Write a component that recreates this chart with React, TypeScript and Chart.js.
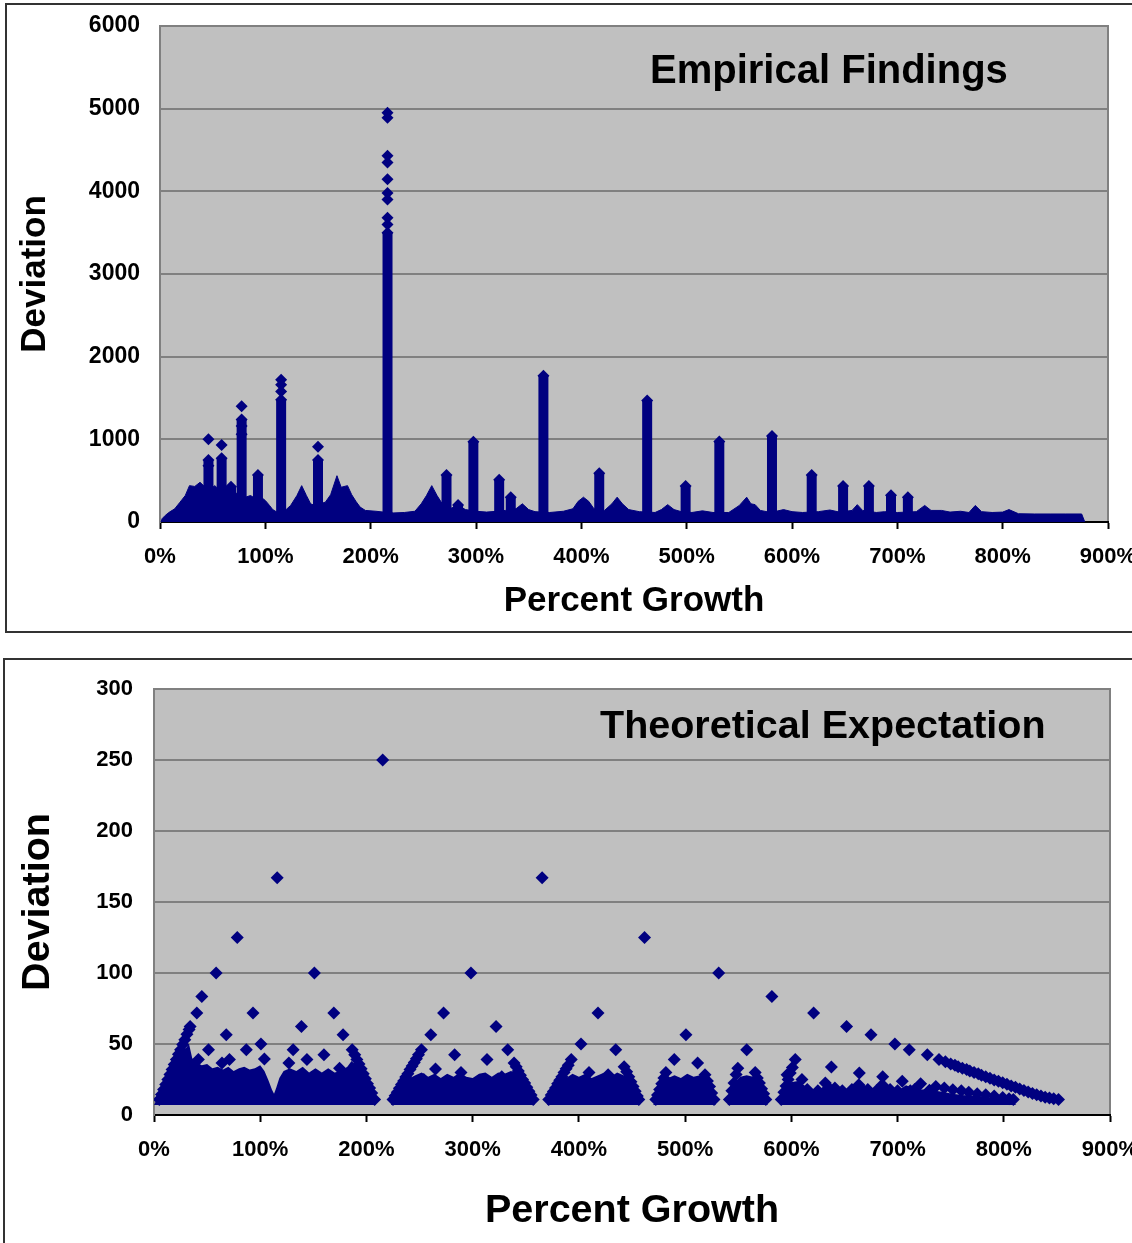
import React, { useEffect, useRef } from "react";
import { Chart, registerables } from "chart.js";

Chart.register(...registerables);

const FONT = "Arial, 'Liberation Sans', Helvetica, sans-serif";
const NAVY = "#000080";

// ---------- shared axis ----------
const xTickValues = [0, 100, 200, 300, 400, 500, 600, 700, 800, 900];

// ---------- Empirical Findings (top) ----------
const empYTicks = [0, 1000, 2000, 3000, 4000, 5000, 6000];

// dense mass outline (percent growth, deviation)
const empMassX = [1, 2, 5, 9, 14, 19, 24, 28, 33, 38, 43, 48, 52, 57, 62, 66, 71, 76, 81, 86, 91, 96, 100, 104, 107, 111, 118, 124, 130, 134.5, 139, 143, 147, 152, 157, 162, 168, 172, 178, 182, 186, 190, 195, 205, 212, 222, 232, 242, 248, 253, 258, 263, 268, 275, 283, 290, 300, 310, 320, 328, 338, 344, 350, 356, 370, 383, 392, 397, 402, 407, 412, 422, 429, 434, 439, 445, 455, 470, 476, 482, 488, 495, 505, 515, 525, 540, 550, 557, 561, 565, 570, 580, 592, 600, 610, 625, 636, 645, 657, 662, 667, 680, 688, 700, 718, 726, 732, 742, 750, 760, 768, 774, 780, 790, 800, 806, 815, 830, 845, 860, 875, 878];
const empMassY = [0, 40, 80, 120, 160, 240, 320, 440, 430, 480, 420, 400, 440, 380, 420, 400, 360, 320, 300, 320, 280, 300, 260, 200, 150, 120, 130, 200, 320, 440, 320, 220, 200, 220, 240, 330, 560, 420, 440, 330, 250, 180, 140, 130, 120, 110, 115, 130, 220, 320, 440, 320, 220, 160, 200, 150, 130, 120, 130, 140, 160, 220, 150, 125, 115, 130, 160, 250, 300, 250, 160, 140, 220, 300, 220, 150, 125, 115, 150, 210, 150, 125, 115, 135, 115, 115, 200, 300, 220, 210, 140, 115, 150, 125, 115, 125, 145, 120, 140, 210, 140, 115, 125, 115, 125, 200, 140, 140, 120, 130, 115, 200, 125, 115, 120, 150, 100, 97, 97, 97, 97, 0];

// tall narrow columns (percent growth, top deviation)
const empSpikeX = [46, 58.5, 67.4, 77.5, 93, 115, 150, 216, 272, 283, 297.5, 322, 333, 364, 417, 462.5, 499, 531, 581, 618.7, 648.5, 673, 694, 710];
const empSpikeTop = [750, 770, 425, 1240, 570, 1480, 750, 3500, 570, 205, 970, 510, 300, 1770, 590, 1470, 435, 975, 1040, 570, 435, 435, 325, 300];

// isolated points above the columns
const empDotX = [46, 46, 58.5, 77.5, 77.5, 77.5, 115, 115, 115, 150, 216, 216, 216, 216, 216, 216, 216, 216, 216];
const empDotY = [1000, 680, 930, 1400, 1160, 1060, 1580, 1660, 1720, 910, 3600, 3680, 3900, 3980, 4145, 4350, 4430, 4890, 4950];

// ---------- Theoretical Expectation (bottom) ----------
const theoYTicks = [0, 50, 100, 150, 200, 250, 300];

const theoMassX = [0, 2, 5, 10, 15, 20, 25, 30, 33, 36, 40, 45, 50, 55, 60, 65, 70, 75, 80, 85, 90, 95, 100, 104, 108, 111, 113,
  115, 118, 122, 128, 134, 140, 146, 152, 158, 164, 170, 176, 182, 186, 190, 195, 200, 204, 207, 209,
  223, 225, 229, 233, 237, 241, 246, 252, 258, 264, 270, 276, 282, 288, 294, 300, 306, 312, 318, 324, 330, 336, 340, 344, 348, 352, 355, 357, 359,
  370, 372, 376, 380, 384, 388, 394, 400, 406, 412, 418, 424, 430, 436, 442, 446, 450, 454, 456, 458,
  470, 472, 476, 480, 484, 490, 496, 502, 508, 514, 518, 522, 525, 527, 529,
  540, 542, 545, 548, 552, 558, 564, 568, 571, 574, 576, 578,
  589, 591, 595, 600, 606, 612, 618, 624, 630, 636, 642, 648, 654, 660, 666, 672, 678, 684, 690, 696, 702, 708, 714, 720, 728, 736, 744, 752, 760, 770, 780, 790, 800, 806, 810, 812];
const theoMassY = [7, 10, 15, 22, 28, 35, 41, 47, 50, 40, 37, 35, 36, 33, 34, 32, 34, 31, 33, 34, 32, 33, 35, 31, 24, 18, 15,
  19, 26, 31, 33, 31, 34, 30, 33, 30, 33, 30, 31, 34, 38, 35, 28, 21, 15, 10, 7,
  7, 10, 14, 18, 22, 26, 28, 30, 27, 29, 26, 29, 27, 30, 27, 26, 29, 30, 27, 30, 29, 31, 30, 26, 22, 17, 12, 8, 7,
  7, 10, 15, 19, 23, 26, 29, 27, 29, 26, 28, 30, 27, 30, 28, 24, 18, 13, 9, 7,
  7, 10, 16, 22, 26, 28, 26, 29, 27, 28, 25, 19, 14, 9, 7,
  7, 10, 17, 24, 27, 28, 27, 23, 18, 13, 9, 7,
  7, 10, 17, 23, 24, 21, 18, 16, 20, 23, 19, 16, 19, 22, 23, 19, 17, 21, 22, 18, 18, 21, 19, 18, 18, 17, 16, 15, 14, 13.5, 13, 12, 11, 10, 8, 7];

const theoDotX = [
  215.3, 116, 365.4, 78.4, 461.8, 58.5, 151, 298.4, 531.6, 45, 581.7, 40.3, 93.2, 169.3, 272.6, 418, 621, 34, 138.8, 322, 652,
  68, 178, 260.6, 500.8, 675, 100.7, 402, 697.5, 51.3, 86.9, 131, 186.6, 251.8, 333, 434.7, 558, 711, 160, 283, 728,
  41.8, 71, 103.9, 144, 313.5, 392.8, 489.8, 603.7, 739, 64, 127, 339, 511.8, 745, 442.6, 174.7, 549.6, 637.7, 265, 289,
  409.5, 481.9, 566, 664, 327.4, 427.5, 518.7, 596, 686, 254, 610, 704.4, 506, 632, 721.7, 663.5, 685.6,
  598, 615, 625, 641, 648, 657, 672, 680, 693, 700, 712, 716, 730,
  5, 7, 9, 11, 13, 15, 17, 19, 21, 23, 25, 27, 29, 31, 33,
  189, 191, 193, 195, 197, 199, 201, 203, 205, 207.7,
  225, 227, 229, 231, 233, 235, 237, 239, 241, 243, 245, 247, 249,
  341, 343, 345, 347, 349, 351, 353, 355, 357,
  371.6, 374, 376, 378, 380, 382, 384, 386, 388, 390,
  445, 447, 449, 451, 453, 455, 456.4,
  472.4, 474, 476, 478, 480,
  521, 523, 525, 527.2,
  541.7, 544, 546, 548,
  568, 570, 572, 574, 576,
  590.5, 593, 595, 597, 599, 601,
  750, 754, 757, 761, 765, 768, 772, 776, 779, 783, 787, 791, 795, 799, 803, 807, 811, 815, 819, 823, 827, 831, 835, 839, 843, 847, 851.5,
  736, 744, 752, 760, 767, 775, 783, 791, 799, 805, 809];
const theoDotY = [
  250, 167, 167, 125, 125, 100, 100, 100, 100, 83.5, 83.5, 71.8, 71.8, 71.8, 71.8, 71.8, 71.8, 62.4, 62.4, 62.4, 62.4,
  56.5, 56.5, 56.5, 56.5, 56.5, 50, 50, 50, 46, 46, 46, 46, 46, 46, 46, 46, 46, 42.5, 42.5, 42.5,
  39, 39, 39.4, 39, 39, 39, 39, 39, 39, 36.6, 36.6, 36.6, 36.6, 37.5, 34, 33, 33, 33.8, 32.4, 30,
  30, 30, 30, 29.6, 27, 28.4, 28.4, 28.4, 27, 25, 25, 23.7, 22.7, 22.5, 22, 21.3, 21.3,
  20, 18, 17, 19, 17, 18, 18, 17, 18, 17, 17, 18, 17.5,
  11, 14.5, 18, 21.5, 25, 28.6, 32, 35.6, 39, 42.7, 46, 49.7, 53, 56.8, 60.2,
  42.5, 39, 36, 32.5, 29, 25.5, 22, 19, 15.5, 11,
  11, 13.6, 16, 18.8, 21.5, 24, 26.7, 29, 32, 34.5, 37, 39.7, 42.5,
  34, 31, 28, 25, 22.5, 19.5, 16.7, 14, 11,
  11, 14, 16.5, 19, 22, 24.5, 27, 30, 32.5, 35,
  30.5, 27, 23.5, 20, 16.7, 13.4, 11,
  11, 14, 18, 22, 26,
  24, 20, 15.5, 11,
  11, 17, 22.5, 28.5,
  26, 22.5, 18.5, 15, 11,
  11, 16, 20.5, 25, 29.5, 33.5,
  36, 35, 34, 33, 32, 31, 30, 29, 28, 27, 25.8, 24.7, 23.7, 22.7, 21.7, 20.5, 19.5, 18.3, 17.3, 16.2, 15.2, 14.2, 13.3, 12.5, 12, 11.5, 11,
  20, 19, 17.8, 17, 16, 15, 14.3, 13.3, 12.3, 11.5, 11];

// ---------- helpers ----------
const plotBackground = {
  id: "plotBackground",
  beforeDraw(chart: any) {
    const { ctx, chartArea: a } = chart;
    ctx.save();
    ctx.fillStyle = "#C0C0C0";
    ctx.fillRect(a.left, a.top, a.right - a.left, a.bottom - a.top);
    ctx.strokeStyle = "#808080";
    ctx.lineWidth = 2;
    ctx.strokeRect(a.left, a.top, a.right - a.left, a.bottom - a.top);
    ctx.restore();
  },
};

function pts(xs: number[], ys: number[]) {
  return xs.map((x, i) => ({ x, y: ys[i] }));
}

function makeOptions(cfg: {
  yMax: number;
  yTicks: number[];
  yWidth: number;
  xHeight: number;
  pad: { left: number; top: number; right: number; bottom: number };
  titleSize: number;
  yTitlePad: number;
  xTitlePad: number;
  tickPadX: number;
  tickPadY: number;
  yTickSize: number;
}) {
  return {
    responsive: false,
    animation: false as const,
    devicePixelRatio: 1,
    events: [] as any[],
    layout: { padding: cfg.pad },
    plugins: { legend: { display: false }, tooltip: { enabled: false } },
    scales: {
      x: {
        type: "linear" as const,
        min: 0,
        max: 900,
        afterFit(s: any) {
          s.height = cfg.xHeight;
          s.paddingLeft = 0;
          s.paddingRight = 0;
        },
        afterBuildTicks(s: any) {
          s.ticks = xTickValues.map((v) => ({ value: v }));
        },
        ticks: {
          autoSkip: false,
          maxRotation: 0,
          color: "#000",
          padding: cfg.tickPadX,
          font: { family: FONT, size: 22, weight: "bold" as const },
          callback: (v: any) => `${v}%`,
        },
        grid: {
          drawOnChartArea: false,
          drawTicks: true,
          tickLength: 7,
          tickColor: "#000",
          tickWidth: 2,
        },
        border: { display: true, color: "#000", width: 2 },
        title: {
          display: true,
          text: "Percent Growth",
          color: "#000",
          font: { family: FONT, size: cfg.titleSize, weight: "bold" as const, lineHeight: 1 },
          padding: { top: 0, bottom: cfg.xTitlePad },
        },
      },
      y: {
        type: "linear" as const,
        min: 0,
        max: cfg.yMax,
        afterFit(s: any) {
          s.width = cfg.yWidth;
          s.paddingTop = 0;
          s.paddingBottom = 0;
        },
        afterBuildTicks(s: any) {
          s.ticks = cfg.yTicks.map((v) => ({ value: v }));
        },
        ticks: {
          color: "#000",
          padding: cfg.tickPadY,
          font: { family: FONT, size: cfg.yTickSize, weight: "bold" as const },
          callback: (v: any) => String(v),
        },
        grid: { color: "#808080", lineWidth: 2, drawTicks: false },
        border: { display: true, color: "#808080", width: 2 },
        title: {
          display: true,
          text: "Deviation",
          color: "#000",
          font: { family: FONT, size: cfg.titleSize, weight: "bold" as const, lineHeight: 1 },
          padding: { top: cfg.yTitlePad, bottom: 0 },
        },
      },
    },
  };
}

const diamond = {
  pointStyle: "rectRot" as const,
  pointRadius: 6,
  pointBackgroundColor: NAVY,
  pointBorderWidth: 0,
  backgroundColor: NAVY,
  borderColor: NAVY,
  showLine: false,
};

export default function App() {
  const topRef = useRef<HTMLCanvasElement>(null);
  const botRef = useRef<HTMLCanvasElement>(null);

  useEffect(() => {
    const topChart = new Chart(topRef.current as HTMLCanvasElement, {
      type: "scatter",
      data: {
        datasets: [
          {
            data: pts(empMassX, empMassY),
            showLine: true,
            fill: "origin",
            backgroundColor: NAVY,
            borderColor: NAVY,
            borderWidth: 1,
            pointRadius: 0,
            tension: 0,
          },
          ...empSpikeX.map((x, i) => ({
            data: [
              { x, y: 0 },
              { x, y: empSpikeTop[i] },
            ],
            showLine: true,
            borderColor: NAVY,
            backgroundColor: NAVY,
            borderWidth: 10,
            borderCapStyle: "butt" as const,
            pointRadius: 0,
          })),
          { data: pts(empSpikeX, empSpikeTop), ...diamond },
          { data: pts(empDotX, empDotY), ...diamond },
        ] as any,
      },
      options: makeOptions({
        yMax: 6000,
        yTicks: empYTicks,
        yWidth: 160,
        xHeight: 118,
        pad: { left: 0, top: 26, right: 52, bottom: 0 },
        titleSize: 35,
        yTitlePad: 17.5,
        xTitlePad: 21.5,
        tickPadX: 15,
        tickPadY: 20,
        yTickSize: 23,
      }) as any,
      plugins: [plotBackground],
    });

    const botChart = new Chart(botRef.current as HTMLCanvasElement, {
      type: "scatter",
      data: {
        datasets: [
          {
            data: pts(theoMassX, theoMassY),
            showLine: true,
            fill: { value: 7 },
            backgroundColor: NAVY,
            borderColor: NAVY,
            borderWidth: 0,
            pointRadius: 0,
            tension: 0,
          },
          { data: pts(theoDotX, theoDotY), ...diamond, pointRadius: 6.5 },
        ] as any,
      },
      options: makeOptions({
        yMax: 300,
        yTicks: theoYTicks,
        yWidth: 154,
        xHeight: 128,
        pad: { left: 0, top: 49, right: 50, bottom: 0 },
        titleSize: 39.5,
        yTitlePad: 18.25,
        xTitlePad: 12.25,
        tickPadX: 15,
        tickPadY: 21,
        yTickSize: 22,
      }) as any,
      plugins: [plotBackground],
    });

    return () => {
      topChart.destroy();
      botChart.destroy();
    };
  }, []);

  const annot: React.CSSProperties = {
    position: "absolute",
    fontFamily: FONT,
    fontWeight: "bold",
    color: "#000",
    whiteSpace: "nowrap",
  };

  return (
    <div
      style={{
        position: "fixed",
        left: 0,
        top: 0,
        width: 1132,
        height: 1243,
        overflow: "hidden",
        background: "#fff",
      }}
    >
      <canvas ref={topRef} width={1160} height={640} style={{ position: "absolute", left: 0, top: 0 }} />
      <canvas ref={botRef} width={1160} height={603} style={{ position: "absolute", left: 0, top: 640 }} />
      <div style={{ ...annot, left: 650, top: 48.5, fontSize: 40, lineHeight: "40px" }}>Empirical Findings</div>
      <div style={{ ...annot, left: 600, top: 704.7, fontSize: 39.5, lineHeight: "39.5px" }}>Theoretical Expectation</div>
      <div
        style={{
          position: "absolute",
          left: 5,
          top: 3,
          width: 1150,
          height: 630,
          border: "2px solid #333",
          boxSizing: "border-box",
          pointerEvents: "none",
        }}
      />
      <div
        style={{
          position: "absolute",
          left: 3,
          top: 658,
          width: 1150,
          height: 700,
          border: "2px solid #333",
          boxSizing: "border-box",
          pointerEvents: "none",
        }}
      />
    </div>
  );
}
